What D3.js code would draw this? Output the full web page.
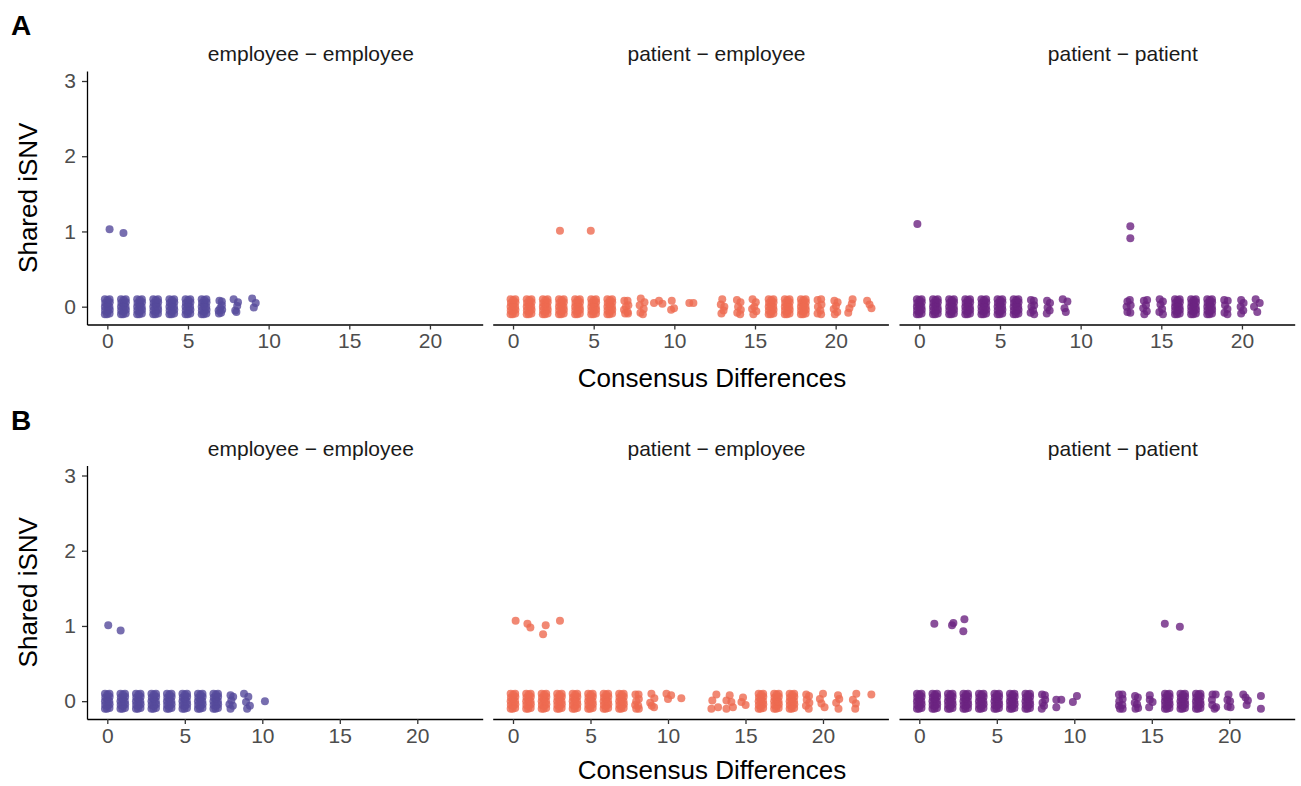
<!DOCTYPE html>
<html>
<head>
<meta charset="utf-8">
<script src="https://cdn.jsdelivr.net/npm/d3@7"></script>
<style>
  html, body { margin: 0; padding: 0; background: #ffffff; }
  svg { display: block; font-family: "Liberation Sans", Arial, Helvetica, sans-serif; }
</style>
</head>
<body>
<svg id="chart" width="1301" height="786"></svg>
<script>
// ---- labels and ticks ----
const facetLabels = ["employee \u2212 employee", "patient \u2212 employee", "patient \u2212 patient"];
const rowLabels = ["A", "B"];
const facetColors = ["#554A9B", "#EE6A50", "#6B2381"];
const xTickValues = [0, 5, 10, 15, 20];
const yTickValues = [0, 1, 2, 3];
const xTitle = "Consensus Differences";
const yTitle = "Shared iSNV";

// jittered offsets (difference, shared iSNV) of pairs inside a fully populated column
const columnJitter = [
  [-0.15, -0.10], [-0.02, -0.10], [0.14, -0.09],
  [-0.14, -0.05], [0.01, -0.06], [0.15, -0.04],
  [-0.15, 0.00], [0.00, 0.01], [0.13, 0.00],
  [-0.13, 0.05], [0.02, 0.04], [0.15, 0.06],
  [-0.15, 0.10], [0.01, 0.09], [0.14, 0.10]
];

// ---- A: fully populated columns (integer consensus differences) ----
const colsA_empEmp = [0, 1, 2, 3, 4, 5, 6];
const colsA_patEmp = [0, 1, 2, 3, 4, 5, 6, 16, 17, 18];
const colsA_patPat = [0, 1, 2, 3, 4, 5, 6, 16, 17, 18];

// ---- A: individual pairs [consensus differences, shared iSNV] ----
const ptsA_empEmp = [
  [6.95, 0.08], [7.10, 0.07], [7.10, 0.02], [7.00, -0.02], [6.90, -0.05], [7.05, -0.08], [6.92, -0.09], [7.12, -0.04],
  [7.83, 0.10], [8.10, 0.06], [8.05, 0.01], [7.93, -0.05], [8.00, -0.07],
  [8.98, 0.11], [9.20, 0.05], [9.08, -0.01],
  [0.14, 1.03], [1.00, 0.98]
];
const ptsA_patEmp = [
  [6.90, 0.08], [7.10, 0.08], [7.15, 0.02], [7.00, 0.00], [6.88, -0.04], [7.10, -0.07], [6.95, -0.09], [7.13, -0.09],
  [7.92, 0.11], [8.15, 0.06], [7.85, 0.02], [8.10, -0.03], [7.90, -0.08], [8.05, -0.10],
  [8.74, 0.05], [9.05, 0.08], [9.26, 0.04],
  [9.84, 0.08], [9.98, -0.02], [9.80, -0.04],
  [10.93, 0.05], [11.18, 0.05],
  [12.97, 0.10], [12.88, 0.03], [13.10, 0.00], [13.05, -0.05], [12.92, -0.09],
  [13.88, 0.09], [14.10, 0.06], [13.95, 0.00], [14.12, -0.04], [13.90, -0.08], [14.08, -0.10],
  [14.85, 0.10], [15.05, 0.06], [14.95, 0.00], [14.82, -0.03], [15.08, -0.06], [14.90, -0.10],
  [18.88, 0.09], [19.10, 0.10], [19.12, 0.03], [18.90, 0.00], [19.05, -0.05], [18.88, -0.09], [19.10, -0.10],
  [19.92, 0.08], [20.12, 0.06], [20.02, 0.01], [19.88, -0.03], [20.10, -0.07], [19.95, -0.10],
  [21.05, 0.10], [21.00, 0.04], [20.85, -0.02], [20.78, -0.08],
  [21.95, 0.08], [22.10, 0.03], [22.22, -0.02],
  [2.91, 1.01], [4.82, 1.01]
];
const ptsA_patPat = [
  [6.92, 0.09], [7.10, 0.08], [7.12, 0.02], [6.95, 0.00], [7.05, -0.05], [6.90, -0.08], [7.12, -0.10],
  [7.92, 0.08], [8.10, 0.05], [7.95, -0.01], [8.08, -0.05], [7.90, -0.09],
  [8.89, 0.10], [9.18, 0.07], [9.00, -0.02], [9.08, -0.07],
  [12.90, 0.07], [13.05, 0.09], [12.85, 0.00], [13.10, 0.02], [12.90, -0.07], [13.08, -0.08],
  [13.92, 0.08], [14.12, 0.09], [14.05, 0.02], [13.88, -0.02], [14.10, -0.06], [13.95, -0.10],
  [14.90, 0.10], [15.10, 0.07], [14.95, 0.03], [15.05, -0.03], [14.88, -0.07], [15.10, -0.10],
  [18.90, 0.09], [19.12, 0.08], [18.95, 0.02], [19.10, -0.03], [18.92, -0.08], [19.10, -0.10],
  [19.95, 0.09], [20.10, 0.05], [19.92, 0.00], [20.08, -0.05], [19.95, -0.09],
  [20.85, 0.10], [21.10, 0.05], [20.75, 0.00], [20.95, -0.07],
  [-0.12, 1.10], [13.08, 1.07], [13.08, 0.91]
];

// ---- B: fully populated columns ----
const colsB_empEmp = [0, 1, 2, 3, 4, 5, 6, 7];
const colsB_patEmp = [0, 1, 2, 3, 4, 5, 6, 7, 16, 17, 18];
const colsB_patPat = [0, 1, 2, 3, 4, 5, 6, 7, 16, 17, 18];

// ---- B: individual pairs ----
const ptsB_empEmp = [
  [7.95, 0.08], [8.12, 0.06], [8.00, 0.01], [7.88, -0.04], [8.10, -0.06], [7.95, -0.10],
  [8.82, 0.10], [9.10, 0.06], [8.95, -0.01], [9.20, -0.06], [9.02, -0.10],
  [10.17, 0.00],
  [0.06, 1.01], [0.86, 0.94]
];
const ptsB_patEmp = [
  [7.90, 0.09], [8.10, 0.09], [8.12, 0.03], [7.95, 0.00], [7.88, -0.05], [8.08, -0.06], [7.95, -0.10], [8.12, -0.10],
  [8.93, 0.10], [9.12, 0.04], [8.85, -0.02], [9.10, -0.08], [8.95, -0.06],
  [9.90, 0.10], [10.20, 0.08], [10.00, 0.03],
  [10.86, 0.04],
  [13.12, 0.09], [12.86, 0.01], [12.80, -0.10], [13.23, -0.08],
  [13.98, 0.08], [13.77, 0.01], [14.09, -0.01], [13.77, -0.10], [14.19, -0.08],
  [14.84, 0.05], [15.01, -0.05], [14.74, -0.01],
  [18.92, 0.09], [19.10, 0.07], [18.95, 0.02], [19.12, -0.02], [18.90, -0.06], [19.08, -0.10],
  [20.00, 0.10], [19.80, 0.03], [19.90, -0.03], [20.10, -0.08],
  [20.97, 0.08], [21.05, 0.03], [20.85, -0.02], [21.00, -0.10],
  [22.15, 0.10], [21.93, 0.02], [22.12, -0.03], [22.08, -0.10],
  [23.12, 0.09],
  [0.17, 1.07], [0.93, 1.03], [1.12, 0.98], [2.11, 1.01], [1.94, 0.89], [3.03, 1.07]
];
const ptsB_patPat = [
  [7.92, 0.09], [8.10, 0.08], [8.12, 0.02], [7.95, -0.02], [8.05, -0.06], [7.90, -0.10],
  [8.84, 0.02], [9.16, 0.02], [8.84, -0.08],
  [10.17, 0.07], [9.91, -0.01],
  [12.88, 0.09], [13.10, 0.09], [13.12, 0.03], [12.90, 0.00], [12.88, -0.06], [13.10, -0.05], [12.95, -0.10], [13.12, -0.10],
  [13.92, 0.07], [14.10, 0.05], [13.90, -0.02], [14.05, -0.04], [14.12, -0.09], [13.95, -0.10],
  [14.87, 0.08], [14.87, 0.02], [15.05, -0.01], [14.83, -0.08],
  [18.92, 0.09], [19.12, 0.09], [18.88, 0.02], [18.90, -0.05], [19.05, -0.10], [19.15, -0.08],
  [19.95, 0.09], [19.88, 0.02], [20.05, 0.00], [19.90, -0.07], [20.08, -0.08],
  [20.90, 0.09], [21.05, 0.05], [21.20, 0.01], [21.12, -0.05],
  [22.04, 0.07], [22.04, -0.10],
  [0.97, 1.03], [2.11, 1.01], [2.20, 1.04], [2.91, 1.09], [2.84, 0.93], [15.84, 1.03], [16.81, 0.99]
];

const rowData = [
  [{ cols: colsA_empEmp, pts: ptsA_empEmp }, { cols: colsA_patEmp, pts: ptsA_patEmp }, { cols: colsA_patPat, pts: ptsA_patPat }],
  [{ cols: colsB_empEmp, pts: ptsB_empEmp }, { cols: colsB_patEmp, pts: ptsB_patEmp }, { cols: colsB_patPat, pts: ptsB_patPat }]
];

// ---- layout ----
const panelLeft = [87, 492.7, 899];
const panelWidth = 395.7;
const panelHeight = 253.5;
const stripShift = 26;
const rowTop = [71, 465.5];
const xTitleBaseline = [387, 779];
const rowXDomain = [[-1.26, 23.27], [-1.31, 24.22]];
const yDomain = [-0.237, 3.133];
const pointRadius = 4;

const svg = d3.select("#chart");

rowLabels.forEach((rowLabel, r) => {
  const top = rowTop[r];

  svg.append("text")
    .attr("x", 11).attr("y", top - 36)
    .attr("font-size", 28).attr("font-weight", "bold").attr("fill", "#000")
    .text(rowLabel);

  const y = d3.scaleLinear().domain(yDomain).range([panelHeight, 0]);

  facetLabels.forEach((facet, f) => {
    const x = d3.scaleLinear().domain(rowXDomain[r]).range([0, panelWidth]);
    const g = svg.append("g").attr("transform", `translate(${panelLeft[f]},${top})`);

    // strip label
    g.append("text")
      .attr("x", panelWidth / 2 + stripShift).attr("y", -10)
      .attr("text-anchor", "middle").attr("font-size", 21).attr("fill", "#1A1A1A")
      .text(facet);

    // points: populated columns spread by the jitter offsets, plus individual pairs
    const panel = rowData[r][f];
    const points = panel.cols.flatMap(c => columnJitter.map(([dx, dy]) => [c + dx, dy]))
      .concat(panel.pts);

    g.append("g").selectAll("circle")
      .data(points)
      .join("circle")
      .attr("cx", d => x(d[0]))
      .attr("cy", d => y(d[1]))
      .attr("r", pointRadius)
      .attr("fill", facetColors[f])
      .attr("fill-opacity", 0.8);

    // x axis
    const xAxis = g.append("g")
      .attr("transform", `translate(0,${panelHeight})`)
      .call(d3.axisBottom(x).tickValues(xTickValues).tickFormat(d3.format("d"))
        .tickSize(5).tickSizeOuter(0).tickPadding(4));
    xAxis.select(".domain").attr("stroke", "#000").attr("stroke-width", 1.3);
    xAxis.selectAll(".tick line").attr("stroke", "#333").attr("stroke-width", 1.3);
    xAxis.selectAll(".tick text").attr("font-size", 21).attr("fill", "#4D4D4D")
      .attr("font-family", "\"Liberation Sans\", Arial, Helvetica, sans-serif");

    // y axis on the first facet only
    if (f === 0) {
      const yAxis = g.append("g")
        .call(d3.axisLeft(y).tickValues(yTickValues).tickFormat(d3.format("d"))
          .tickSize(5).tickSizeOuter(0).tickPadding(6));
      yAxis.select(".domain").attr("stroke", "#000").attr("stroke-width", 1.3);
      yAxis.selectAll(".tick line").attr("stroke", "#333").attr("stroke-width", 1.3);
      yAxis.selectAll(".tick text").attr("font-size", 21).attr("fill", "#4D4D4D")
        .attr("font-family", "\"Liberation Sans\", Arial, Helvetica, sans-serif");
    }
  });

  // axis titles
  svg.append("text")
    .attr("x", 712).attr("y", xTitleBaseline[r])
    .attr("text-anchor", "middle").attr("font-size", 26).attr("fill", "#000")
    .text(xTitle);

  svg.append("text")
    .attr("transform", `translate(37,${top + panelHeight / 2}) rotate(-90)`)
    .attr("text-anchor", "middle").attr("font-size", 26).attr("fill", "#000")
    .text(yTitle);
});
</script>
</body>
</html>
